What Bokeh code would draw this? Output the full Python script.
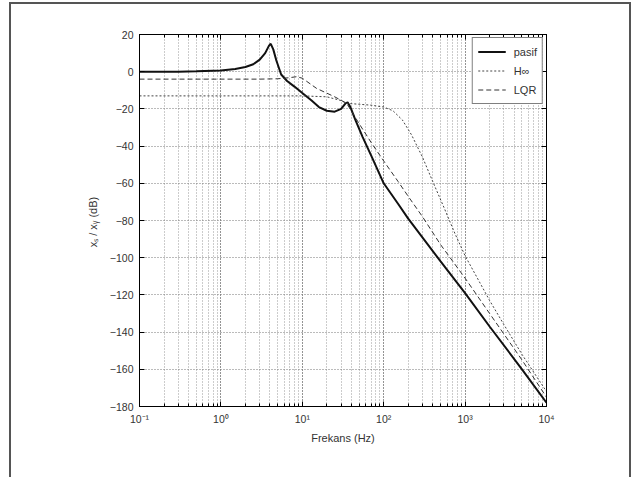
from bokeh.plotting import figure
from bokeh.models import (LinearAxis, LogAxis, FixedTicker, LogTicker, CustomJSTickFormatter,
                          Legend, LegendItem, Range1d)
from bokeh.embed import file_html
from bokeh.resources import INLINE

# ---- data ----
f_pasif = [0.1, 0.3, 0.5, 1, 1.5, 2, 2.5, 3, 3.5, 3.9, 4.1, 4.4, 4.8, 5.5, 6.5, 8, 10, 13, 16, 20,
           25, 30, 34, 36, 39, 45, 55, 70, 100, 150, 200, 500, 1000, 2000, 5000, 10000]
db_pasif = [0, 0, 0.2, 0.6, 1.5, 2.5, 4, 6.5, 10, 14, 15, 12, 6, -1.5, -5, -8, -11.5, -15.5, -19, -21,
            -21.5, -20, -17, -16.5, -19, -26, -35, -45, -60, -71, -79, -102, -119, -137, -160, -178]

f_hinf = [0.1, 1, 5, 10, 20, 30, 35, 50, 70, 100, 130, 170, 220, 300, 400, 550, 750, 1000,
          1500, 2000, 3000, 5000, 10000]
db_hinf = [-13, -13, -13, -13, -13.5, -15.5, -17, -17.5, -18, -19, -21, -26, -34, -46, -59, -73, -87, -99,
           -113, -123, -136, -152, -172]

f_lqr = [0.1, 1, 3, 5, 7, 8.5, 10, 15, 25, 35, 40, 50, 70, 100, 150, 200, 300, 500, 1000,
         2000, 5000, 10000]
db_lqr = [-4, -4, -4, -3.8, -3.2, -2.7, -3.5, -9, -13.5, -17, -21, -28, -38, -48, -59, -67, -78, -93, -111,
          -130, -155, -175]

y_ticks = [-180, -160, -140, -120, -100, -80, -60, -40, -20, 0, 20]
x_label = "Frekans (Hz)"
y_label = "x\u209b / x\u1d67  (dB)"
series_names = ["pasif", "H\u221e", "LQR"]

FONT = "Liberation Sans"
TXT = "#333333"

g = "linear-gradient(#555555, #555555)"
frame_css = {
    "background-color": "white",
    "background-image": ", ".join([g, g, g]),
    "background-repeat": "no-repeat",
    "background-position": "9px 2px, 9px 2px, 629px 2px",
    "background-size": "2px 520px, 622px 2px, 2px 520px",
}

p = figure(width=637, height=477, x_axis_type="log",
           x_range=Range1d(0.1, 1e4), y_range=Range1d(-180, 20),
           output_backend="svg", toolbar_location=None,
           min_border_left=139, min_border_right=91, min_border_top=34, min_border_bottom=71,
           background_fill_color="white", border_fill_color=None, styles=frame_css)
p.outline_line_color = "black"
p.outline_line_width = 1

sup = CustomJSTickFormatter(code="""
const m = {'-':'\u207b','0':'\u2070','1':'\u00b9','2':'\u00b2','3':'\u00b3','4':'\u2074',
           '5':'\u2075','6':'\u2076','7':'\u2077','8':'\u2078','9':'\u2079'};
const e = String(Math.round(Math.log10(tick)));
let s = '';
for (const c of e) { s += m[c]; }
return '10' + s;
""")
blank = CustomJSTickFormatter(code="return '';")

xa = p.xaxis[0]
xa.ticker = LogTicker(num_minor_ticks=10)
xa.formatter = sup
ya = p.yaxis[0]
ya.ticker = FixedTicker(ticks=y_ticks)

for ax in (xa, ya):
    ax.major_tick_in = 5
    ax.major_tick_out = 0
    ax.minor_tick_in = 3
    ax.minor_tick_out = 0
    ax.major_label_text_font = FONT
    ax.major_label_text_font_size = "10.5px"
    ax.major_label_text_color = TXT
    ax.axis_label_text_font = FONT
    ax.axis_label_text_font_size = "11px"
    ax.axis_label_text_font_style = "normal"
    ax.axis_label_text_color = TXT
    ax.axis_line_color = "black"
    ax.major_tick_line_color = "black"
    ax.minor_tick_line_color = "black"
xa.axis_label = x_label
ya.axis_label = y_label
xa.major_label_standoff = 6
xa.axis_label_standoff = 4
ya.major_label_standoff = 6
ya.axis_label_standoff = 8
ya.minor_tick_line_color = None

top = LogAxis(ticker=LogTicker(num_minor_ticks=10), formatter=blank,
              major_tick_in=5, major_tick_out=0, minor_tick_in=3, minor_tick_out=0,
              major_label_standoff=0)
right = LinearAxis(ticker=FixedTicker(ticks=y_ticks), formatter=blank,
                   major_tick_in=5, major_tick_out=0, minor_tick_line_color=None,
                   major_label_standoff=0)
p.add_layout(top, "above")
p.add_layout(right, "right")

p.xgrid.grid_line_color = "#777777"
p.xgrid.grid_line_dash = "1 2"
p.xgrid.minor_grid_line_color = "#999999"
p.xgrid.minor_grid_line_dash = "1 2"
p.ygrid.grid_line_color = "#777777"
p.ygrid.grid_line_dash = "1 2"

r1 = p.line(f_pasif, db_pasif, line_color="#111111", line_width=2)
r2 = p.line(f_hinf, db_hinf, line_color="#444444", line_width=1, line_dash="2 2")
r3 = p.line(f_lqr, db_lqr, line_color="#333333", line_width=1, line_dash="5 3")

leg = Legend(items=[LegendItem(label=series_names[0], renderers=[r1]),
                    LegendItem(label=series_names[1], renderers=[r2]),
                    LegendItem(label=series_names[2], renderers=[r3])],
             location="top_right", margin=3, padding=5, spacing=2,
             label_text_font=FONT, label_text_font_size="11px", label_text_color=TXT,
             glyph_width=28, glyph_height=17, label_height=17, label_standoff=8,
             border_line_color="black", border_line_width=1, background_fill_alpha=1)
p.add_layout(leg)

open("out.html", "w").write(file_html(p, INLINE))
